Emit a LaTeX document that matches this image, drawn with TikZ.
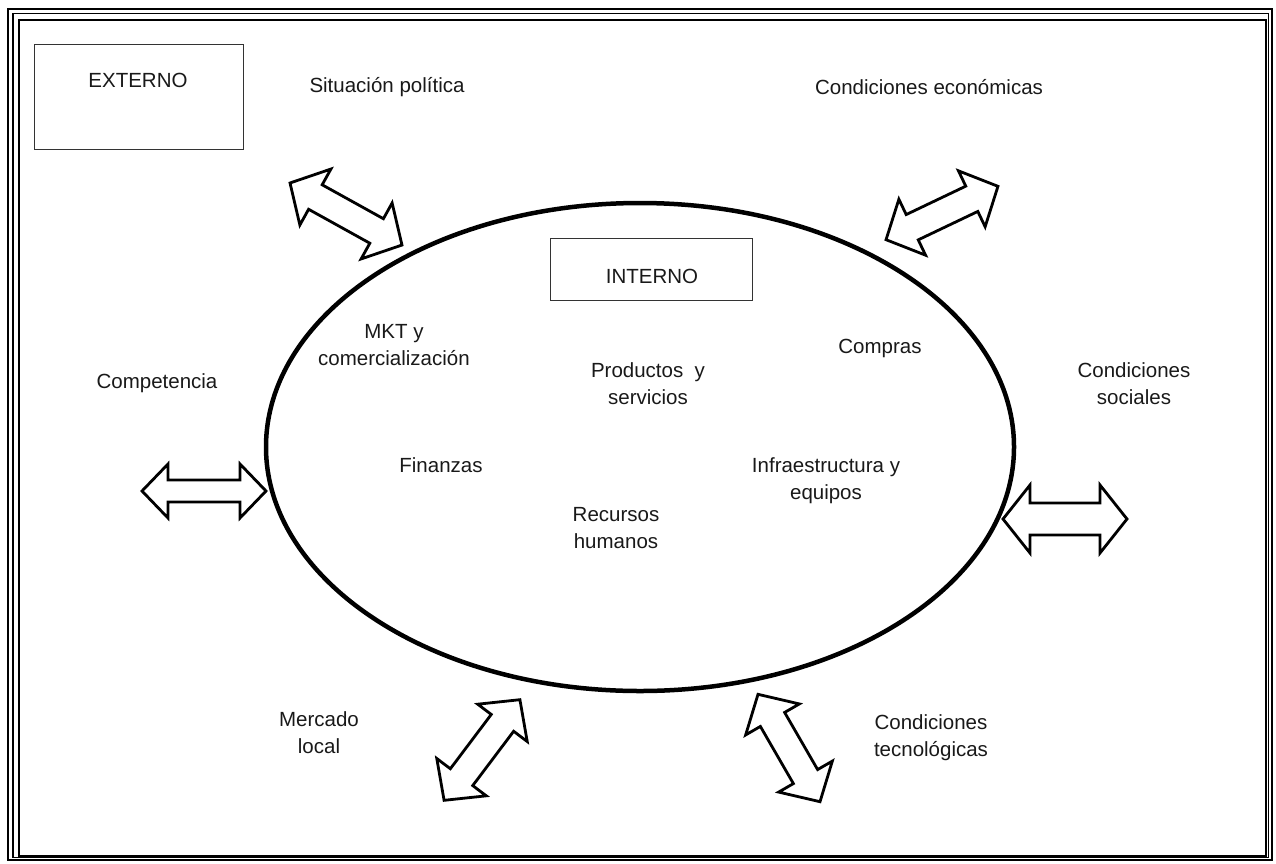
\documentclass[tikz,border=0pt]{standalone}
\usepackage{fontspec}
\setmainfont{Liberation Sans}
\newcommand\dblarrow[7]{%
 \begin{scope}[shift={(#1,#2)},rotate=#3]
 \pgfmathsetmacro\arrLa{#4/2}\pgfmathsetmacro\arrLb{#4/2-#7}%
 \pgfmathsetmacro\arrHa{#5/2}\pgfmathsetmacro\arrSa{#6/2}%
 \draw[arr] (-\arrLa,0) -- (-\arrLb,-\arrHa) -- (-\arrLb,-\arrSa) -- (\arrLb,-\arrSa) -- (\arrLb,-\arrHa) -- (\arrLa,0) -- (\arrLb,\arrHa) -- (\arrLb,\arrSa) -- (-\arrLb,\arrSa) -- (-\arrLb,\arrHa) -- cycle;
 \end{scope}}
\begin{document}
\begin{tikzpicture}[x=1pt,y=-1pt,
  lbl/.style={font=\fontsize{20.5}{27}\selectfont, align=center, inner sep=0pt, text=black!90},
  box/.style={draw=black!80, line width=0.9pt},
  arr/.style={draw=black, line width=2.8pt, line join=miter, fill=white}]
\useasboundingbox (0,0) rectangle (1276,863);
% frame
\draw[line width=2.6pt] (8,9) rectangle (1272,860);
\draw[line width=1.1pt] (13,13.5) rectangle (1268.5,857.5);
\draw[line width=2pt] (19,19.5) rectangle (1266,855.5);
% boxes
\draw[box] (34,44) rectangle (243,149);
\draw[box] (550,238) rectangle (752,300);
% ellipse
\draw[line width=4.5pt] (640,447) ellipse [x radius=374, y radius=244];
% arrows
\dblarrow{346}{214}{-29}{128}{64}{28}{29}
\dblarrow{942}{213}{25.5}{124}{62}{28}{29}
\dblarrow{204}{491}{0}{124}{54}{22}{26}
\dblarrow{1065}{519}{0}{124}{68}{32}{27}
\dblarrow{482}{750}{53}{126}{62}{28}{29}
\dblarrow{789}{748}{-60}{124}{62}{28}{29}
% labels
\node[lbl] (ext) at (138,80) {EXTERNO};
\node[lbl] (int) at (652,276) {INTERNO};
\node[lbl] (pol) at (387,87) {Situación política};
\node[lbl] (eco) at (929,87) {Condiciones económicas};
\node[lbl] (mkt) at (394,345) {MKT y\\comercialización};
\node[lbl] (prod) at (648,384) {Productos~ y\\servicios};
\node[lbl] (comp) at (880,348) {Compras};
\node[lbl] (soc) at (1134,384) {Condiciones\\sociales};
\node[lbl] (compe) at (157,383) {Competencia};
\node[lbl] (fin) at (441,465) {Finanzas};
\node[lbl] (rh) at (616,528) {Recursos\\humanos};
\node[lbl] (inf) at (826,481) {Infraestructura y\\equipos};
\node[lbl] (mer) at (319,733) {Mercado\\local};
\node[lbl] (tec) at (931,738) {Condiciones\\tecnológicas};
\end{tikzpicture}
\end{document}
